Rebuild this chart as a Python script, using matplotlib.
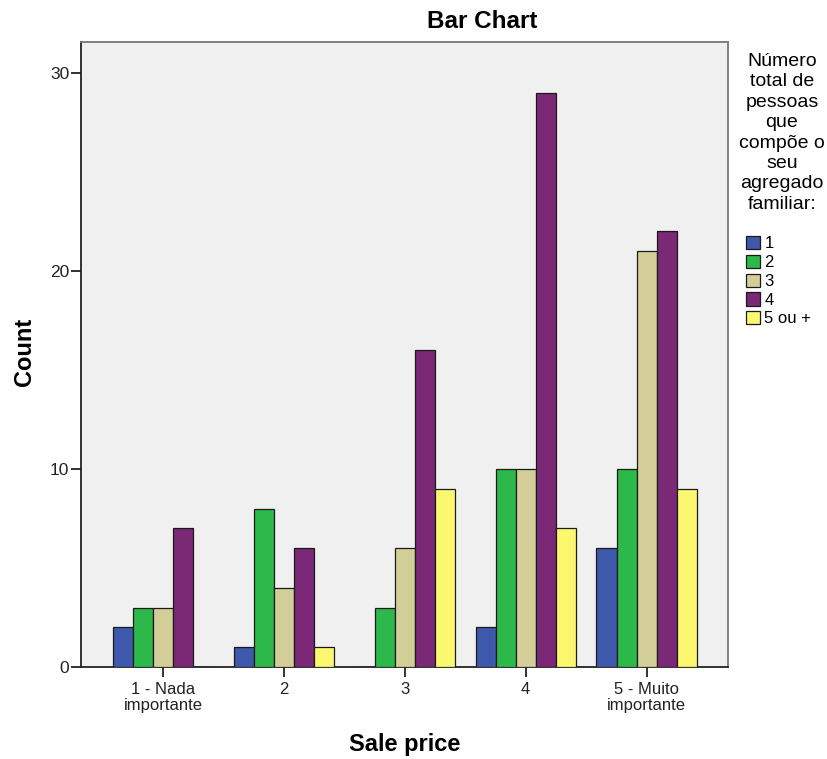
import matplotlib
matplotlib.use("Agg")
import matplotlib.pyplot as plt
import numpy as np

plt.rcParams['font.family'] = ['Liberation Sans', 'DejaVu Sans']

categories = ["1 - Nada\nimportante", "2", "3", "4", "5 - Muito\nimportante"]
groups = ["1", "2", "3", "4", "5 ou +"]
counts_1 = [2, 1, 0, 2, 6]
counts_2 = [3, 8, 3, 10, 10]
counts_3 = [3, 4, 6, 10, 21]
counts_4 = [7, 6, 16, 29, 22]
counts_5 = [0, 1, 9, 7, 9]
series = [counts_1, counts_2, counts_3, counts_4, counts_5]
colors = ["#3E58AC", "#2DB84A", "#D3CE97", "#7B2877", "#FBF870"]
legend_title = "Número\ntotal de\npessoas\nque\ncompõe o\nseu\nagregado\nfamiliar:"

fig = plt.figure(figsize=(8.27, 7.59), dpi=100)
ax = fig.add_axes([81 / 827, 92 / 759, (727.5 - 81) / 827, (667 - 42) / 759])
ax.set_facecolor("#F0F0F0")

x = np.arange(len(categories))
w = 0.166
handles = []
for i, (vals, col, name) in enumerate(zip(series, colors, groups)):
    b = ax.bar(x + (i - 2) * w, vals, width=w, color=col, edgecolor="#1a1a1a",
               linewidth=0.9, label=name, zorder=3)
    handles.append(b)

ax.set_xlim(-0.679, 4.669)
ax.set_ylim(0, 31.57)
ax.set_yticks([0, 10, 20, 30])
ax.set_xticks(x)
ax.set_xticklabels(categories, fontsize=12, linespacing=1.15)
ax.tick_params(axis='y', labelsize=12.5, length=7.5, width=1.3, colors="#222222", pad=1)
ax.tick_params(axis='x', length=7.5, width=1.3, colors="#222222", pad=3)
for side in ["left", "bottom"]:
    ax.spines[side].set_color("#222222")
    ax.spines[side].set_linewidth(1.3)
for side in ["top", "right"]:
    ax.spines[side].set_color("#777777")
    ax.spines[side].set_linewidth(1.3)

fig.text(25 / 827, 1 - 352 / 759, "Count", rotation=90, ha="center", va="center",
         fontsize=17, fontweight="bold")
fig.text(405 / 827, 1 - 745 / 759, "Sale price", ha="center", va="center",
         fontsize=17, fontweight="bold")
fig.text(482 / 827, 1 - 21 / 759, "Bar Chart", ha="center", va="center",
         fontsize=17.5, fontweight="bold")

fig.text(782 / 827, 1 - 53 / 759, legend_title, ha="center", va="top",
         fontsize=14, linespacing=1.26)
fig.legend(handles=handles, labels=groups, loc="upper left",
           bbox_to_anchor=(746 / 827, 1 - 236 / 759), frameon=False,
           fontsize=12, handlelength=0.85, handleheight=0.85, handletextpad=0.25,
           labelspacing=0.2, borderpad=0.0, borderaxespad=0)

fig.savefig("out.png", dpi=100)
